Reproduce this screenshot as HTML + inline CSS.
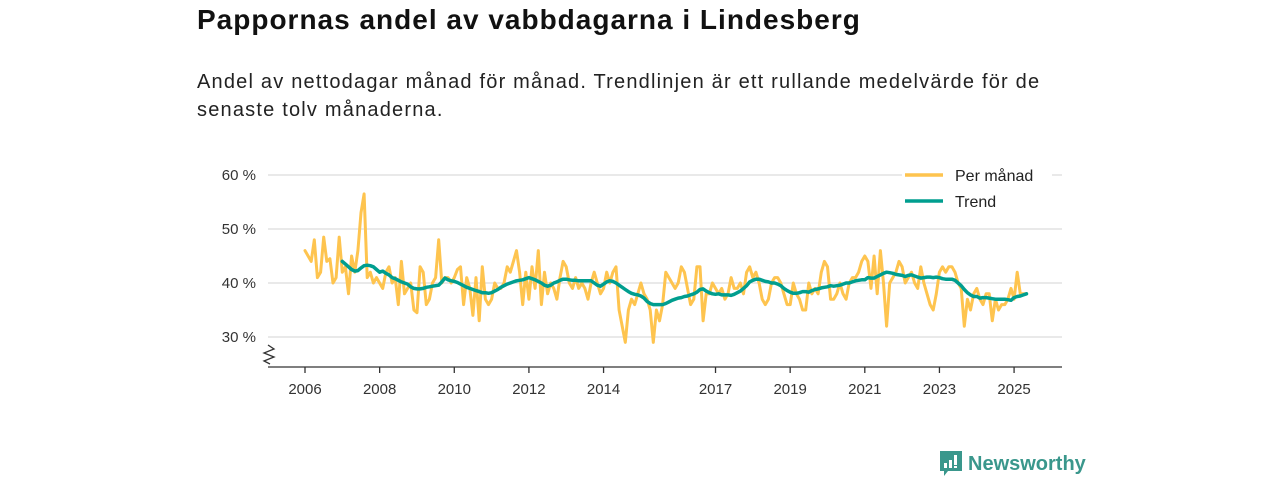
<!DOCTYPE html>
<html><head><meta charset="utf-8">
<style>
body{margin:0;width:1280px;height:480px;background:#fff;font-family:"Liberation Sans",sans-serif;overflow:hidden;position:relative;color:#111}
h1{position:absolute;left:197px;top:4px;margin:0;font-size:28px;font-weight:bold;letter-spacing:1px;white-space:nowrap}
p.sub{position:absolute;left:197px;top:68px;margin:0;font-size:20px;line-height:28px;width:900px;color:#222;letter-spacing:1.2px}
svg{position:absolute;left:0;top:0}
.logo{position:absolute;left:940px;top:451px;display:flex;align-items:center;color:#3a978c;font-size:20px;font-weight:bold}
</style></head><body>
<h1>Pappornas andel av vabbdagarna i Lindesberg</h1>
<p class="sub">Andel av nettodagar månad för månad. Trendlinjen är ett rullande medelvärde för de senaste tolv månaderna.</p>
<svg id="chart" width="1280" height="480"></svg>
<div class="logo">
<svg width="22" height="26" style="position:static;margin-right:6px" viewBox="0 0 22 26"><path d="M0 0H22V20H8L4 25V20H0Z" fill="#3a978c"/><rect x="4" y="12" width="3" height="5" fill="#fff"/><rect x="9" y="9" width="3" height="8" fill="#fff"/><rect x="14" y="4" width="3" height="10" fill="#fff"/><rect x="14" y="15" width="3" height="2" fill="#fff"/></svg>Newsworthy</div>
<script>
const yTicks=[30,40,50,60];
const xTickYears=[2006,2008,2010,2012,2014,2017,2019,2021,2023,2025];
const startYear=2006;
const monthly=[
46,45,44,48,41,42,48.5,44,44.5,40,41,48.5,
42,43,38,45,42,46,53,56.5,41,42,40,41,
40,39,42,43,40,41,36,44,38,39,40,35,
34.5,43,42,36,37,40,41,48,40,41,41,40,
41,42.5,43,36,41,39,34,41,33,43,37,36,
37,40,39,39,40,43,42,44,46,42,36,42,
37,43,39,46,36,42,38,40,39,37,41,44,
43,40,39,41,39,40,39,37,40,42,40,38,
39,42,40,42,43,35,32,29,35,37,36,38,
40,38,37,35,29,35,33,36,42,41,40,39,
40,43,42,39,36,37,43,43,33,38,38,40,
39,38,39,37,38,41,39,39,40,38,42,43,
41,42,40,37,36,37,40,41,41,40,38,36,
36,40,38,37,35,35,40,38,39,38,42,44,
43,37,37,38,40,38,37,40,41,41,42,44,
45,44,39,45,38,46,40,32,40,41,42,44,
43,40,41,42,40,39,43,40,38,36,35,38,
42,43,42,43,43,42,40,39,32,37,35,38,
39,37,36,38,38,33,37,35,36,36,37,39,
37,42,38,38,38];
const trendStartYear=2007;
const trend=[
44,43.5,43,42.5,42.2,42.3,42.8,43.2,43.3,43.2,43,42.5,
42,42.2,41.8,41.5,41,40.8,40.5,40.2,40,39.8,39.3,39,
38.9,38.9,39,39.2,39.3,39.4,39.5,39.6,40.2,40.9,40.6,40.4,
40.3,40.1,39.8,39.5,39.2,39,38.8,38.6,38.4,38.2,38.2,38.1,
38.2,38.5,38.8,39.2,39.5,39.8,40,40.2,40.4,40.5,40.6,40.8,
41,40.8,40.6,40.3,40,39.6,39.4,39.6,40,40.2,40.5,40.7,
40.7,40.6,40.5,40.5,40.4,40.4,40.4,40.4,40.4,40,39.6,39.4,
39.8,40.2,40.4,40.3,40,39.6,39.2,38.8,38.4,38.1,37.9,37.8,
37.6,37.2,36.6,36.2,36,36,36,36,36.2,36.5,36.8,37,
37.2,37.3,37.5,37.6,37.8,38,38.3,38.8,38.9,38.5,38.2,38,
37.9,38,37.8,37.8,37.8,37.7,37.9,38.2,38.5,39,39.5,40.2,
40.5,40.7,40.7,40.5,40.3,40.2,40,40,39.8,39.5,39,38.6,
38.3,38.1,38.1,38.2,38.4,38.4,38.3,38.6,38.8,38.9,39.1,39.2,
39.3,39.5,39.4,39.5,39.6,39.8,40,40,40.2,40.4,40.5,40.6,
40.6,41,40.9,40.9,41.2,41.5,41.8,42,41.9,41.8,41.6,41.5,
41.4,41.2,41.4,41.5,41.3,41.1,40.9,41,41.1,41.1,41,41.1,
41,40.8,40.7,40.7,40.7,40.5,40,39.5,38.8,38.2,37.8,37.5,
37.5,37.2,37.3,37.3,37.2,37.1,37,37,37,37,36.9,36.8,
37.3,37.5,37.6,37.8,38];

const NS="http://www.w3.org/2000/svg";
const svg=document.getElementById('chart');
const X=t=>305+(t-2006)*37.32;
const Y=v=>283-(v-40)*5.4;
const L=268,R=1062,B=367;
function mk(tag,attrs,parent){const e=document.createElementNS(NS,tag);for(const k in attrs)e.setAttribute(k,attrs[k]);(parent||svg).appendChild(e);return e;}
const grid=mk('g',{});


yTicks.forEach(v=>{
  const l=mk('line',{x1:L,x2:R,y1:Y(v),y2:Y(v),stroke:'#dcdcdc','stroke-width':1.3},grid);
  
  
  const t=mk('text',{x:256,y:Y(v)+5,'text-anchor':'end','font-size':15,fill:'#333','font-family':'Liberation Sans, sans-serif'});
  t.textContent=v+' %';
  
  
});
const ax=mk('path',{d:`M${L} ${B}H${R}`,stroke:'#333','stroke-width':1.3,fill:'none'});


const br=mk('path',{d:'M268 345 L274 349 L264 353 L274 357 L264 361 L270 364',stroke:'#333','stroke-width':1.3,fill:'none'});


xTickYears.forEach(yr=>{
  const x=X(yr);
  const tk=mk('line',{x1:x,x2:x,y1:B,y2:B+6,stroke:'#333','stroke-width':1.3});
  
  
  const t=mk('text',{x:x,y:B+27,'text-anchor':'middle','font-size':15,fill:'#333','font-family':'Liberation Sans, sans-serif'});
  t.textContent=yr;
  
  
});
function line(arr,sy,color,w,name){
  const d=arr.map((v,i)=>(i?'L':'M')+X(sy+i/12).toFixed(1)+' '+Y(v).toFixed(1)).join('');
  const p=mk('path',{d:d,stroke:color,'stroke-width':w,fill:'none','stroke-linejoin':'round','stroke-linecap':'round'});
  
  
}
line(monthly,startYear,'#fec44f',3,'monthly-line');
line(trend,trendStartYear,'#009e8f',3.5,'trend-line');
const lg=mk('g',{});


[['Per månad','#fec44f',175],['Trend','#009e8f',201]].forEach(([n,c,y])=>{
  mk('rect',{x:902,y:y-12,width:150,height:22,fill:'#fff'},lg);
  const s=mk('line',{x1:905,x2:943,y1:y,y2:y,stroke:c,'stroke-width':3.5},lg);
  
  
  const t=mk('text',{x:955,y:y+6,'font-size':16,fill:'#222','font-family':'Liberation Sans, sans-serif'},lg);
  t.textContent=n;
  
  
});
</script>
</body></html>
